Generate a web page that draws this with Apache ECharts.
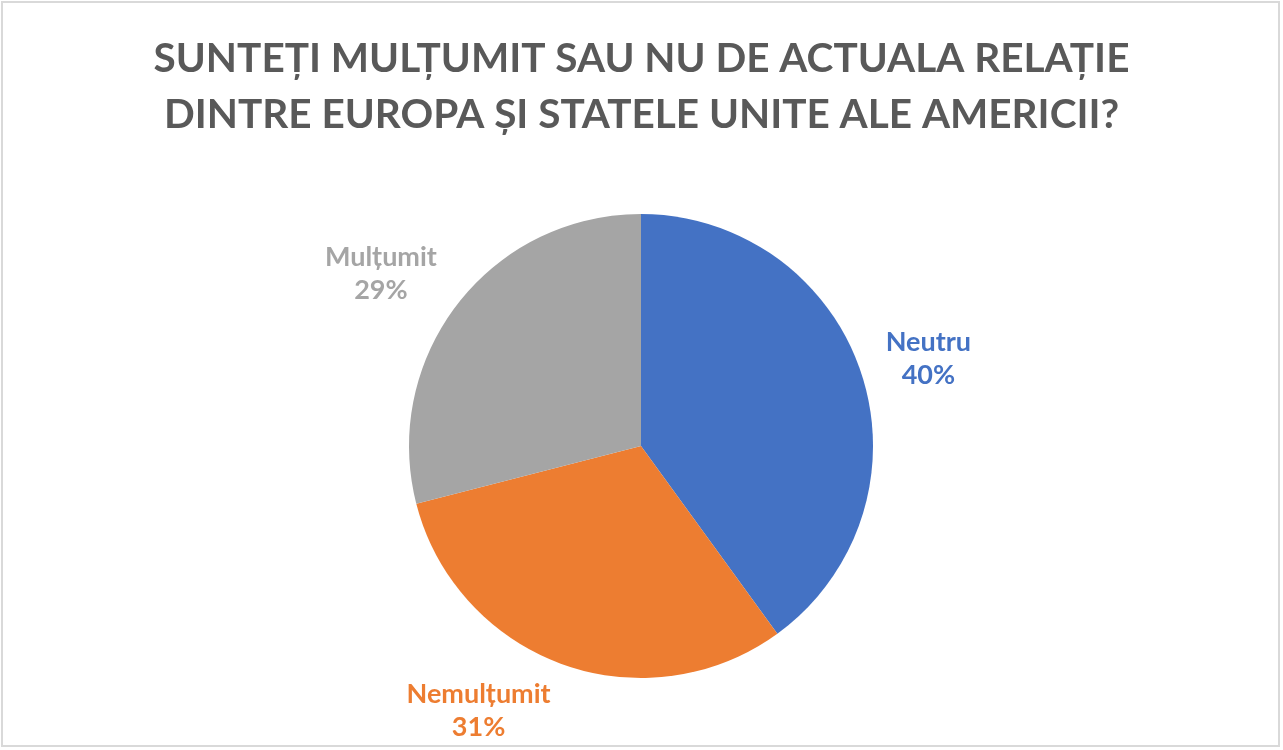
<!DOCTYPE html>
<html>
<head>
<meta charset="utf-8">
<script src="https://cdn.jsdelivr.net/npm/echarts@6/dist/echarts.min.js"></script>
<style>
html,body{margin:0;padding:0;background:#fff;}
#chart{width:1283px;height:750px;}
</style>
</head>
<body>
<div id="chart"></div>
<script>
const titleText = "SUNTEȚI MULȚUMIT SAU NU DE ACTUALA RELAȚIE\nDINTRE EUROPA ȘI STATELE UNITE ALE AMERICII?";
const categories = ["Neutru", "Nemulțumit", "Mulțumit"];
const values = [40, 31, 29];
const colors = ["#4472C4", "#ED7D31", "#A5A5A5"];

const total = values.reduce((a, b) => a + b, 0);
// mid angle (clockwise from top) of each slice, derived from the data
const midAngles = values.map((v, i) => {
  const before = values.slice(0, i).reduce((a, b) => a + b, 0);
  return (before + v / 2) / total * 2 * Math.PI;
});

const chart = echarts.init(document.getElementById('chart'));
chart.setOption({
  backgroundColor: '#ffffff',
  animation: false,
  graphic: [{
    type: 'rect', silent: true,
    shape: {x: 2, y: 2, width: 1277, height: 744},
    style: {fill: 'none', stroke: '#d9d9d9', lineWidth: 2}
  }],
  title: {
    text: titleText,
    left: 'center',
    top: 26,
    textStyle: {
      fontFamily: 'Lato',
      fontWeight: 'bold',
      fontSize: 40.5,
      lineHeight: 56,
      color: '#595959'
    }
  },
  series: [{
    type: 'pie',
    center: [641, 446],
    radius: 232,
    startAngle: 90,
    clockwise: true,
    avoidLabelOverlap: false,
    itemStyle: {borderWidth: 0},
    label: {
      show: true,
      position: 'outside',
      formatter: '{t|{b}}\n{t|{c}%}',
      fontFamily: 'Lato',
      fontWeight: 'bold',
      fontSize: 27,
      lineHeight: 33,
      rich: {t: {align: 'center', fontFamily: 'Lato', fontWeight: 'bold', fontSize: 27, lineHeight: 33}}
    },
    labelLine: {show: false, length: 20, length2: 0},
    labelLayout: function (p) {
      const a = midAngles[p.dataIndex];
      return {dy: -Math.cos(a) * p.labelRect.height / 2 * 0.9};
    },
    data: categories.map((c, i) => ({
      name: c,
      value: values[i],
      itemStyle: {color: colors[i]},
      label: {color: colors[i]}
    }))
  }]
});
</script>
</body>
</html>
